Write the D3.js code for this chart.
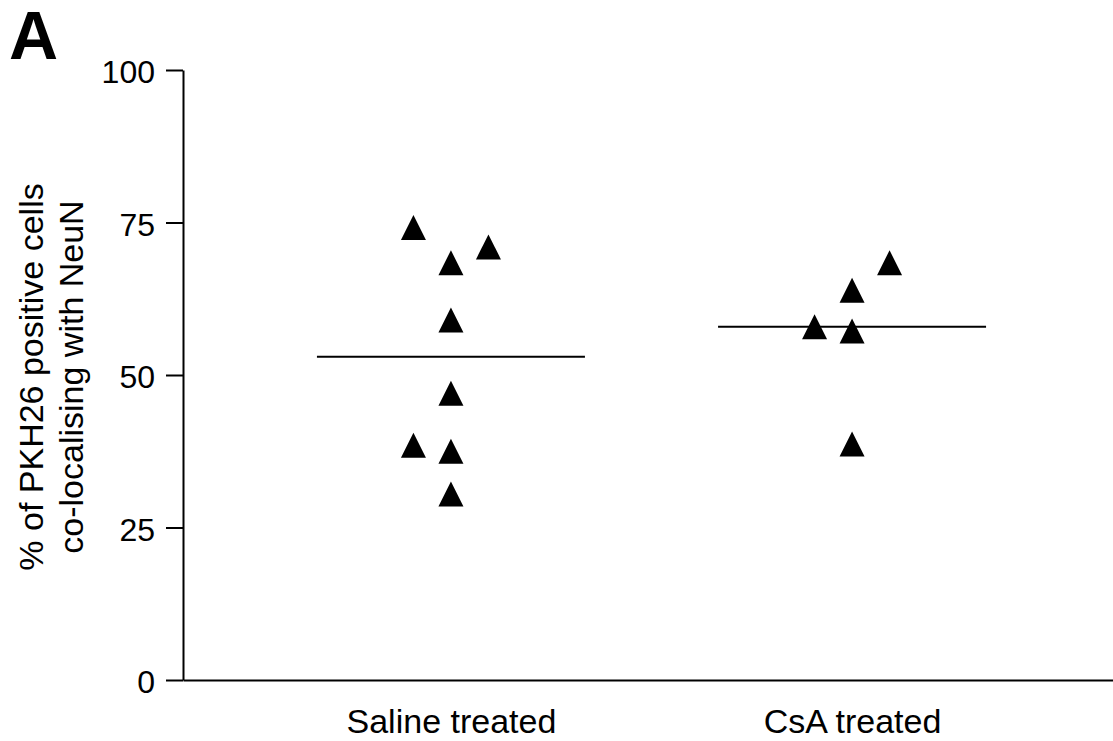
<!DOCTYPE html>
<html>
<head>
<meta charset="utf-8">
<script src="https://cdn.jsdelivr.net/npm/d3@7"></script>
<style>
  body { margin: 0; background: #fff; }
  svg { display: block; font-family: "Liberation Sans", Arial, sans-serif; }
</style>
</head>
<body>
<svg id="chart"></svg>
<script>
// values
const groups = ['Saline treated', 'CsA treated'];
const salineValues = [74.2, 71.0, 68.4, 59.0, 47.0, 38.5, 37.5, 30.5];
const salineSlots = [-1, 1, 0, 0, 0, -1, 0, 0];
const csaValues = [68.4, 63.9, 57.9, 57.2, 38.7];
const csaSlots = [1, 0, -1, 0, 0];
const groupMeans = [53.0, 57.9];
const yTicks = [0, 25, 50, 75, 100];

const width = 1113;
const height = 741;

const svg = d3.select('#chart')
  .attr('width', width)
  .attr('height', height);

const y = d3.scaleLinear().domain([0, 100]).range([680, 70]);
const x = d3.scalePoint().domain(groups).range([183, 1120]).padding(0.668);
const slot = d3.scaleLinear().domain([-1, 1]).range([-37.5, 37.5]);
const meanHalf = 134;

const points = [
  ...salineValues.map((v, i) => ({ group: groups[0], value: v, slot: salineSlots[i] })),
  ...csaValues.map((v, i) => ({ group: groups[1], value: v, slot: csaSlots[i] }))
];

// y axis
const yAxis = svg.append('g')
  .attr('transform', `translate(${x.range()[0]},0)`)
  .call(d3.axisLeft(y).tickValues(yTicks).tickSize(17).tickSizeOuter(0).tickPadding(11));
yAxis.select('.domain').attr('stroke-width', 2);
yAxis.selectAll('.tick line').attr('stroke-width', 2);
yAxis.selectAll('.tick text')
  .attr('font-size', 32)
  .attr('font-family', '"Liberation Sans", Arial, sans-serif')
  .attr('fill', '#000')
  .attr('dy', '0.4em');

// x axis
const xAxis = svg.append('g')
  .attr('transform', `translate(0,${y(0)})`)
  .call(d3.axisBottom(x).tickSize(0).tickSizeOuter(0).tickPadding(29));
xAxis.select('.domain').attr('stroke-width', 2);
xAxis.selectAll('.tick text')
  .attr('font-size', 34)
  .attr('font-family', '"Liberation Sans", Arial, sans-serif')
  .attr('fill', '#000');

// mean lines
svg.append('g')
  .selectAll('line')
  .data(groups)
  .join('line')
  .attr('x1', d => x(d) - meanHalf)
  .attr('x2', d => x(d) + meanHalf)
  .attr('y1', (d, i) => y(groupMeans[i]))
  .attr('y2', (d, i) => y(groupMeans[i]))
  .attr('stroke', '#000')
  .attr('stroke-width', 2);

// triangles
const tri = 'M0,-12.5L12.5,12.5L-12.5,12.5Z';
svg.append('g')
  .selectAll('path')
  .data(points)
  .join('path')
  .attr('d', tri)
  .attr('transform', d => `translate(${x(d.group) + slot(d.slot)},${y(d.value)})`)
  .attr('fill', '#000');

// y axis title
const title = svg.append('text')
  .attr('transform', `translate(0,377) rotate(-90)`)
  .attr('text-anchor', 'middle')
  .attr('font-size', 34)
  .attr('fill', '#000');
title.append('tspan').attr('x', 0).attr('y', 43).text('% of PKH26 positive cells');
title.append('tspan').attr('x', 0).attr('y', 83).text('co-localising with NeuN');

// panel letter
svg.append('text')
  .attr('x', 9)
  .attr('y', 59)
  .attr('font-size', 68)
  .attr('font-weight', 'bold')
  .attr('fill', '#000')
  .text('A');
</script>
</body>
</html>
